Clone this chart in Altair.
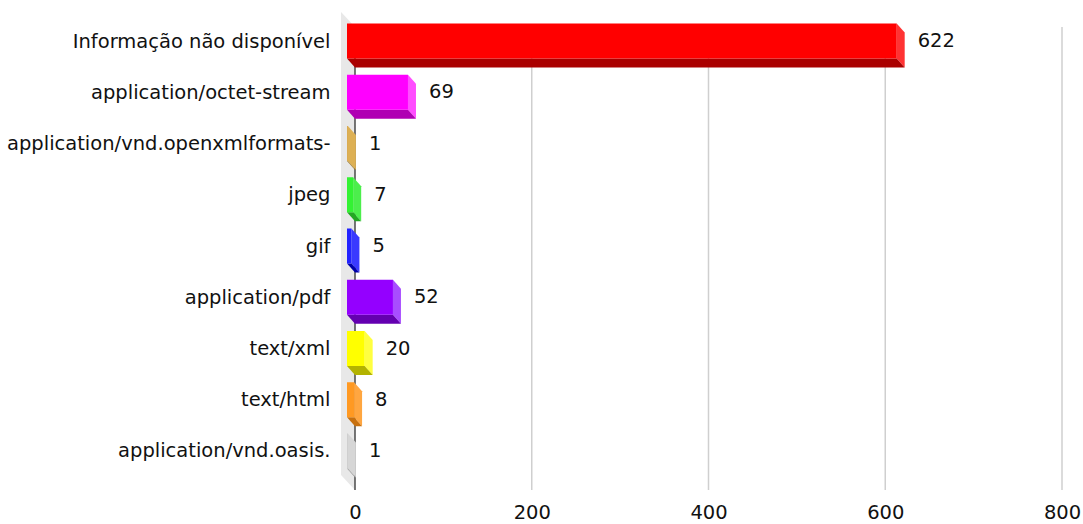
import json
import altair as alt
import pandas as pd

# ---- data ----
categories = [
    "Informação não disponível",
    "application/octet-stream",
    "application/vnd.openxmlformats-",
    "jpeg",
    "gif",
    "application/pdf",
    "text/xml",
    "text/html",
    "application/vnd.oasis.",
]
values = [622, 69, 1, 7, 5, 52, 20, 8, 1]
front_colors = ["#ff0000", "#ff00ff", "#d9a441", "#33f233", "#2222ff",
                "#9400ff", "#ffff00", "#ff9922", "#cccccc"]
side_colors = ["#ff3333", "#ff4dff", "#ddb054", "#4cee4c", "#3a3aff",
               "#a84dff", "#ffff40", "#ffa640", "#d6d6d6"]
bottom_colors = ["#aa0000", "#b000b3", "#9c7a2e", "#22a822", "#0000aa",
                 "#6400b0", "#b3b300", "#c8700e", "#9a9a9a"]
x_ticks = [0, 200, 400, 600, 800]

# ---- layout / style constants ----
W, H = 707, 478
XMAX = 800
YMIN, YMAX = -0.566, 8.761
px_x = W / XMAX
px_y = H / (YMAX - YMIN)
DX = 8 / px_x          # 3-D depth, x (in value units)
DY = 9 / px_y          # 3-D depth, y (in slot units)
HALF = 17.5 / px_y     # half bar thickness
WX = 14 / px_x         # wall thickness
WY = 15 / px_y
FONT = "DejaVu Sans"
FS = 19.5

idx = list(range(len(categories)))

front = pd.DataFrame({
    "cat": categories, "i": idx, "v": values, "c": front_colors,
    "x": [-DX] * len(values), "x2": [v - DX for v in values],
    "y": [i - HALF for i in idx], "y2": [i + HALF for i in idx],
})

right_rows, bottom_rows = [], []
for i, (cat, v) in enumerate(zip(categories, values)):
    right_rows.append({"cat": cat, "c": side_colors[i], "x": v - DX, "y": i - HALF, "y2": i + HALF})
    right_rows.append({"cat": cat, "c": side_colors[i], "x": v, "y": i - HALF + DY, "y2": i + HALF + DY})
    bottom_rows.append({"cat": cat, "c": bottom_colors[i], "y": i + HALF, "x": -DX, "x2": v - DX})
    bottom_rows.append({"cat": cat, "c": bottom_colors[i], "y": i + HALF + DY, "x": 0, "x2": v})
right = pd.DataFrame(right_rows)
bottom = pd.DataFrame(bottom_rows)

wall = pd.DataFrame({"x": [-WX, 0], "y": [YMIN, YMIN + WY], "y2": [YMAX - WY, YMAX]})
grid = pd.DataFrame({"x": x_ticks[1:], "y": YMIN + WY, "y2": YMAX})
zero = pd.DataFrame({"x": [0], "y": [YMIN + WY], "y2": [YMAX]})

xs = alt.Scale(domain=[0, XMAX], nice=False, zero=False)
ys = alt.Scale(domain=[YMIN, YMAX], reverse=True, nice=False, zero=False)

x_axis = alt.Axis(values=x_ticks, grid=False, domain=False, ticks=False, title=None,
                  labelFont=FONT, labelFontSize=FS, labelColor="#111111",
                  labelPadding=22, labelBaseline="middle", labelFlush=False,
                  labelOverlap=False)
label_expr = json.dumps(categories, ensure_ascii=False) + "[datum.value]"
y_axis = alt.Axis(values=idx, grid=False, domain=False, ticks=False, title=None,
                  labelExpr=label_expr, labelFont=FONT, labelFontSize=FS,
                  labelColor="#111111", labelPadding=25, labelLimit=0,
                  labelAlign="right", labelBaseline="middle", labelOverlap=False)

wall_l = alt.Chart(wall).mark_area(orient="vertical", color="#e8e8e8").encode(
    x=alt.X("x:Q", scale=xs, axis=x_axis, stack=None),
    y=alt.Y("y:Q", scale=ys, axis=y_axis, stack=None),
    y2="y2:Q",
)
grid_l = alt.Chart(grid).mark_rule(color="#cfcfcf", strokeWidth=1.5).encode(
    x=alt.X("x:Q", scale=xs, axis=x_axis),
    y=alt.Y("y:Q", scale=ys, axis=y_axis),
    y2="y2:Q",
)
zero_l = alt.Chart(zero).mark_rule(color="#4a4a4a", strokeWidth=1.5).encode(
    x=alt.X("x:Q", scale=xs, axis=x_axis),
    y=alt.Y("y:Q", scale=ys, axis=y_axis),
    y2="y2:Q",
)
right_l = alt.Chart(right).mark_area(orient="vertical").encode(
    x=alt.X("x:Q", scale=xs, axis=x_axis, stack=None),
    y=alt.Y("y:Q", scale=ys, axis=y_axis, stack=None),
    y2="y2:Q",
    color=alt.Color("c:N", scale=None),
    detail="cat:N",
)
bottom_l = alt.Chart(bottom).mark_area(orient="horizontal").encode(
    y=alt.Y("y:Q", scale=ys, axis=y_axis, stack=None),
    x=alt.X("x:Q", scale=xs, axis=x_axis, stack=None),
    x2="x2:Q",
    color=alt.Color("c:N", scale=None),
    detail="cat:N",
)
front_l = alt.Chart(front).mark_rect().encode(
    x=alt.X("x:Q", scale=xs, axis=x_axis),
    x2="x2:Q",
    y=alt.Y("y:Q", scale=ys, axis=y_axis),
    y2="y2:Q",
    color=alt.Color("c:N", scale=None),
)
text_l = alt.Chart(front).mark_text(align="left", baseline="middle", dx=13,
                                    font=FONT, fontSize=FS, color="#111111").encode(
    x=alt.X("v:Q", scale=xs, axis=x_axis),
    y=alt.Y("i:Q", scale=ys, axis=y_axis),
    text="v:Q",
)

chart = alt.layer(wall_l, grid_l, zero_l, right_l, bottom_l, front_l, text_l).properties(
    width=W, height=H,
    autosize=alt.AutoSizeParams(type="none"),
    padding={"left": 355, "top": 12, "right": 21, "bottom": 34},
    background="white",
).configure_view(stroke=None)

chart.save("out.html", embed_options={"renderer": "svg", "actions": False})
